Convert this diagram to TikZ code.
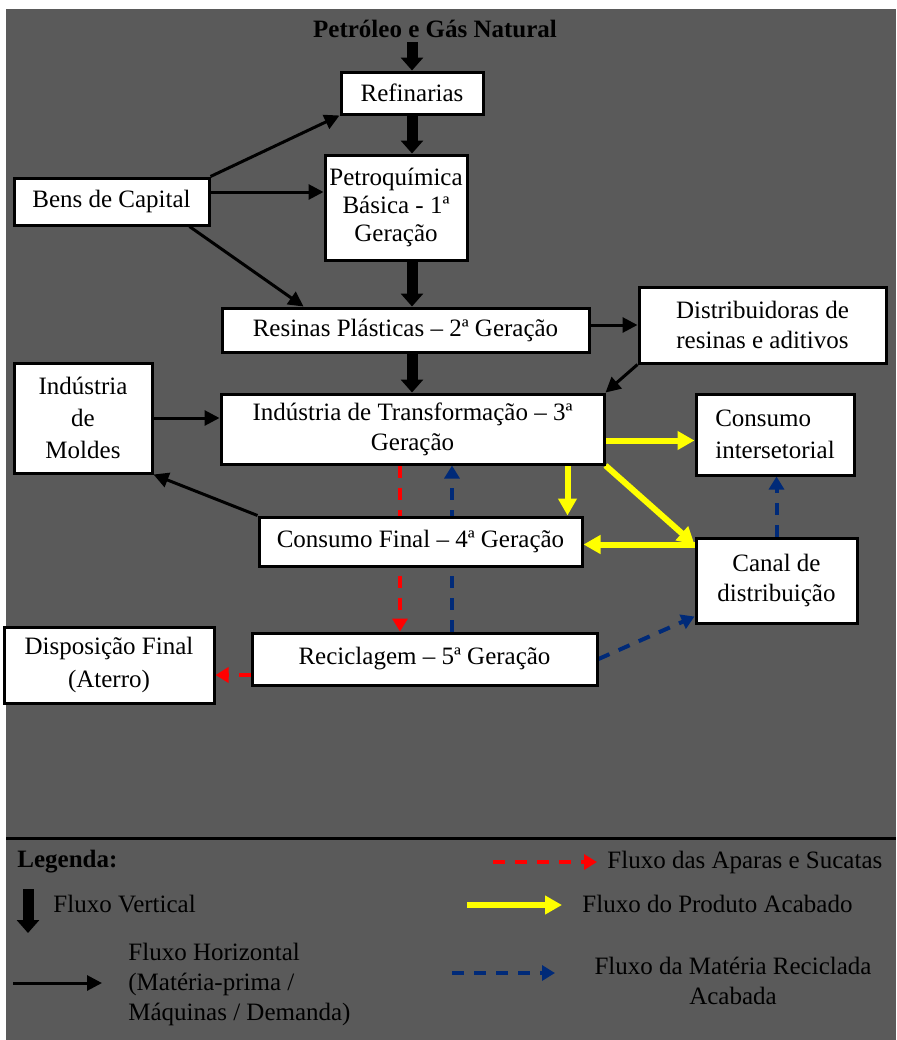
\documentclass[tikz,border=0pt]{standalone}
\usepackage{fontspec}
\setmainfont{LiberationSerif}[Extension=.ttf, UprightFont=*-Regular, BoldFont=*-Bold, ItalicFont=*-Italic, BoldItalicFont=*-BoldItalic]
\usetikzlibrary{arrows.meta,calc}
\pgfdeclarelayer{back}
\pgfdeclarelayer{edges}
\pgfsetlayers{back,edges,main}
\definecolor{panel}{RGB}{90,90,90}
\definecolor{recblue}{RGB}{0,42,120}
\definecolor{prodyellow}{RGB}{255,255,0}
\newcommand\diafont{\fontsize{12.5}{15}\selectfont}

\begin{document}
\begin{tikzpicture}[x=0.5pt,y=-0.5pt,
  font=\diafont,
  box/.style={draw=black, line width=1.5pt, fill=white, inner sep=0pt, align=center},
  legtext/.style={inner sep=0pt, align=left},
  vflow/.style={line width=5.5pt, -{Triangle[length=6.5pt,width=11pt]}},
  hflow/.style={line width=1.5pt, -{Triangle[length=7.5pt,width=7.5pt]}},
  yflow/.style={draw=prodyellow, line width=3pt, -{Triangle[length=8.5pt,width=9pt]}},
  rflow/.style={draw=red, line width=2pt, dash pattern=on 6pt off 5pt, -{Triangle[length=6.5pt,width=7.5pt]}},
  bflow/.style={draw=recblue, line width=2pt, dash pattern=on 6pt off 5pt, -{Triangle[length=6.5pt,width=7.5pt]}}]

\useasboundingbox (0,0) rectangle (896,1040);
\begin{pgfonlayer}{back}
  \fill[white] (0,0) rectangle (896,1040);
  \fill[panel] (6,9) rectangle (896,1040);
\end{pgfonlayer}

% ---- chain boxes
\node[inner sep=2pt, font=\diafont\bfseries] (title) at (435,29) {Petróleo e Gás Natural};
\node[box, minimum width=71pt, minimum height=21pt] (ref) at (412,93) {Refinarias};
\node[box, minimum width=71pt, minimum height=52.5pt, font=\fontsize{12.5}{14}\selectfont] (petro) at (396,207.5) {Petroquímica\\Básica - 1ª\\Geração};
\node[box, minimum width=97.5pt, minimum height=23.5pt] (bens) at (111.5,201.5) {Bens de Capital};
\node[box, minimum width=183.5pt, minimum height=22pt] (resinas) at (405.5,330) {Resinas Plásticas – 2ª Geração};
\node[box, minimum width=123.5pt, minimum height=38pt] (dist) at (762.5,325) {Distribuidoras de\\resinas e aditivos};
\node[box, minimum width=191.5pt, minimum height=35pt] (ind) at (412.5,429) {Indústria de Transformação – 3ª\\Geração};
\node[box, minimum width=69pt, minimum height=55pt, font=\fontsize{12.5}{16}\selectfont] (moldes) at (83,418) {Indústria\\de\\Moldes};
\node[box, minimum width=79pt, minimum height=40.5pt, align=left, font=\fontsize{12.5}{16}\selectfont] (inter) at (775,434.5) {Consumo\\intersetorial};
\node[box, minimum width=80.5pt, minimum height=42.5pt] (canal) at (776.5,580.5) {Canal de\\distribuição};
\node[box, minimum width=161.5pt, minimum height=24.5pt] (final) at (420.5,541.5) {Consumo Final – 4ª Geração};
\node[box, minimum width=172.5pt, minimum height=26pt] (recic) at (424.5,659) {Reciclagem – 5ª Geração};
\node[box, minimum width=105pt, minimum height=38pt, font=\fontsize{12.5}{16.5}\selectfont] (disp) at (109,665) {Disposição Final\\(Aterro)};

\begin{pgfonlayer}{edges}
  % vertical chain
  \draw[vflow] (ref.north |- title.south) -- (ref.north);
  \draw[vflow] (ref.south) -- (ref.south |- petro.north);
  \draw[vflow] (ref.south |- petro.south) -- (ref.south |- resinas.north);
  \draw[vflow] (ref.south |- resinas.south) -- (ref.south |- ind.north);

  % horizontal flows
  \draw[hflow] (bens.north east) -- (ref.south west);
  \coordinate (bp) at ([yshift=4.75pt]bens.east);
  \draw[hflow] (bp) -- (bp -| petro.west);
  \coordinate (bs) at ([xshift=-10.5pt]bens.south east);
  \coordinate (rn) at ([xshift=41.5pt]resinas.north west);
  \draw[hflow] (bs) -- (rn);
  \draw[hflow] (resinas.east |- dist.west) -- (dist.west);
  \draw[hflow] (dist.south west) -- (ind.north east);
  \draw[hflow] (moldes.east) -- (moldes.east -| ind.west);
  \draw[hflow] (final.north west) -- (moldes.south east);

  % finished product
  \coordinate (iw) at ([yshift=-3pt]inter.west);
  \draw[yflow] (iw -| ind.east) -- (iw);
  \coordinate (fn) at ([xshift=-8pt]final.north east);
  \draw[yflow] (fn |- ind.south) -- (fn);
  \coordinate (cw) at ([yshift=-4pt]canal.north west);
  \draw[yflow] (ind.south east) -- (cw);
  \draw[yflow] (cw) -- (cw -| final.east);

  % scrap
  \coordinate (ra) at ([xshift=-6.25pt]ind.south);
  \draw[rflow] (ra) -- (ra |- recic.north);
  \coordinate (rw) at ([yshift=-8pt]recic.west);
  \draw[rflow] (rw) -- (rw -| disp.east);

  % recycled material
  \coordinate (rb) at ([xshift=13.75pt]recic.north);
  \draw[bflow] (rb) -- (rb |- ind.south);
  \draw[bflow] (recic.east) -- ([yshift=4pt]canal.south west);
  \draw[bflow] (canal.north) -- (canal.north |- inter.south);
\end{pgfonlayer}

% ---- legend
\draw[line width=1.5pt] (6,838) -- (896,838);
\node[legtext, anchor=west, font=\diafont\bfseries] (leg) at (17,862) {Legenda:};

\coordinate (lv1) at (28,889);
\coordinate (lv2) at (28,933);
\draw[vflow] (lv1) -- (lv2);
\node[legtext, anchor=west] (lvt) at (53,904) {Fluxo Vertical};

\coordinate (lh1) at (13,983);
\coordinate (lh2) at (102,983);
\draw[hflow] (lh1) -- (lh2);
\node[legtext, anchor=west] (lht) at (128,984) {Fluxo Horizontal\\(Matéria-prima /\\Máquinas / Demanda)};

\coordinate (lr1) at (493,862);
\coordinate (lr2) at (597,862);
\draw[rflow] (lr1) -- (lr2);
\node[legtext, anchor=west] (lrt) at (607,862) {Fluxo das Aparas e Sucatas};

\coordinate (ly1) at (467,905);
\coordinate (ly2) at (562,905);
\draw[yflow] (ly1) -- (ly2);
\node[legtext, anchor=west] (lyt) at (582,904) {Fluxo do Produto Acabado};

\coordinate (lb1) at (452,973);
\coordinate (lb2) at (555,973);
\draw[bflow] (lb1) -- (lb2);
\node[legtext, align=center] (lbt) at (733,981) {Fluxo da Matéria Reciclada\\Acabada};

\end{tikzpicture}
\end{document}
